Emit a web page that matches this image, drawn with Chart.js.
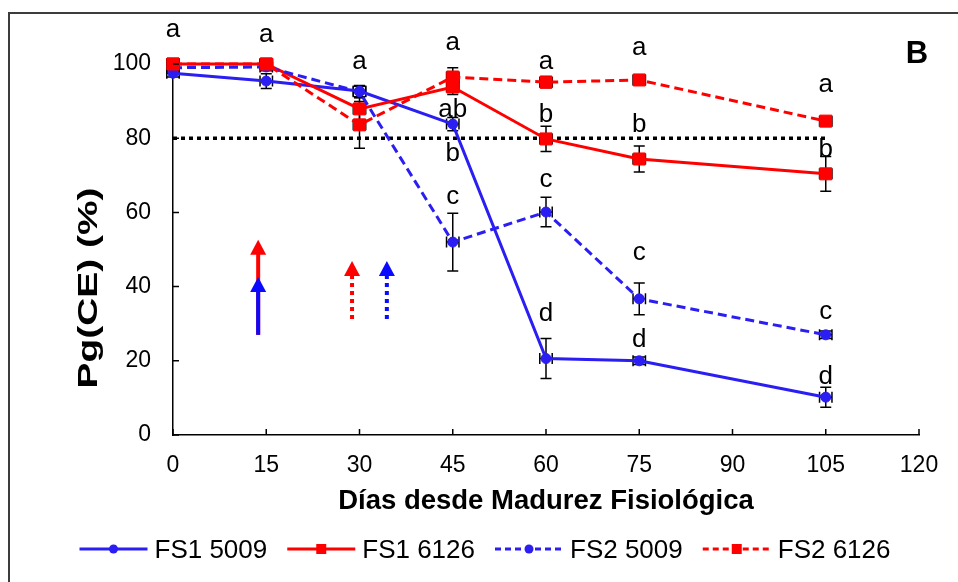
<!DOCTYPE html>
<html>
<head>
<meta charset="utf-8">
<script src="https://cdn.jsdelivr.net/npm/chart.js@4.4.1/dist/chart.umd.min.js"></script>
<style>
  html, body { margin: 0; padding: 0; background: #fff; }
  canvas { display: block; }
</style>
</head>
<body>
<canvas id="c" width="958" height="582"></canvas>
<script>
// Days after physiological maturity
const days = [0, 15, 30, 45, 60, 75, 105];

// Germination Pg(CE) (%) and its error for each lot
const fs1_5009    = [97.5, 95.4, 92.7, 83.8, 20.6, 20.0, 10.2];
const fs1_5009Err = [1.0, 2.0, 1.5, 1.8, 5.4, 1.0, 2.7];
const fs1_6126    = [100, 100, 87.9, 93.8, 79.8, 74.4, 70.4];
const fs1_6126Err = [0.5, 0.8, 3.0, 2.0, 3.4, 3.5, 4.7];
const fs2_5009    = [99.0, 99.2, 92.5, 52.0, 60.1, 36.7, 27.0];
const fs2_5009Err = [0.8, 1.0, 1.5, 7.8, 4.0, 4.3, 1.0];
const fs2_6126    = [100, 100, 83.6, 96.5, 95.1, 95.7, 84.6];
const fs2_6126Err = [0.5, 0.8, 6.3, 2.5, 1.5, 1.0, 1.0];
const dayErr = 1;

// 80 % reference level
const thresholdDays  = [0, 105];
const thresholdLevel = [80, 80];

// Axis ticks
const xTickStep = 15, xMax = 120;
const yTickStep = 20, yMax = 100;

// Significance letters
const letterDays   = [0, 15, 30, 45, 45, 45, 45, 60, 60, 60, 60, 75, 75, 75, 75, 105, 105, 105, 105];
const letterTexts  = ['a', 'a', 'a', 'a', 'ab', 'b', 'c', 'a', 'b', 'c', 'd', 'a', 'b', 'c', 'd', 'a', 'b', 'c', 'd'];
const letterLevels = [109.2, 107.8, 100.5, 105.7, 88.3, 76.3, 64.2, 100.5, 86.8, 68.7, 33.2, 104.3, 84.1, 49.1, 26.4, 94.3, 77.4, 33.2, 16.2];

// Event arrows (solid = FS1, dotted = FS2)
const arrowDays = [13.7, 13.7, 28.8, 34.4];
const arrowFrom = [27, 27, 31.3, 31.3];
const arrowTo   = [52.6, 42.6, 46.9, 46.9];

const BLUE = '#2a1ef2';
const RED = '#ff0000';
const FONT = "'Liberation Sans', Arial, sans-serif";

const seriesDefs = [
  { label: 'FS1 5009', values: fs1_5009, err: fs1_5009Err, color: BLUE, dash: [], style: 'circle', order: 3 },
  { label: 'FS1 6126', values: fs1_6126, err: fs1_6126Err, color: RED, dash: [], style: 'rect', order: 2 },
  { label: 'FS2 5009', values: fs2_5009, err: fs2_5009Err, color: BLUE, dash: [9, 5], style: 'circle', order: 1 },
  { label: 'FS2 6126', values: fs2_6126, err: fs2_6126Err, color: RED, dash: [9, 5], style: 'rect', order: 0 }
];

const datasets = seriesDefs.map(s => ({
  label: s.label,
  data: days.map((d, i) => ({ x: d, y: s.values[i] })),
  borderColor: s.color,
  backgroundColor: s.color,
  pointBackgroundColor: s.color,
  pointBorderColor: s.color,
  borderWidth: 3,
  borderDash: s.dash,
  pointStyle: s.style,
  pointRadius: s.style === 'rect' ? 8.5 : 5,
  pointBorderWidth: 1,
  tension: 0,
  clip: false,
  order: s.order
}));

datasets.push({
  label: 'umbral',
  data: thresholdDays.map((d, i) => ({ x: d, y: thresholdLevel[i] })),
  borderColor: '#000',
  borderWidth: 3.5,
  borderDash: [4, 4],
  borderCapStyle: 'butt',
  pointRadius: 0,
  clip: false,
  order: 5
});

function drawArrow(ctx, x, yBase, yTip, color, dotted) {
  const headH = 15, headW = 8;
  ctx.save();
  ctx.strokeStyle = color;
  ctx.fillStyle = color;
  ctx.lineWidth = 4;
  ctx.lineCap = 'butt';
  ctx.setLineDash(dotted ? [4, 4] : []);
  ctx.beginPath();
  ctx.moveTo(x, yBase);
  ctx.lineTo(x, yTip + headH - 1);
  ctx.stroke();
  ctx.setLineDash([]);
  ctx.beginPath();
  ctx.moveTo(x, yTip);
  ctx.lineTo(x - headW, yTip + headH);
  ctx.lineTo(x + headW, yTip + headH);
  ctx.closePath();
  ctx.fill();
  ctx.restore();
}

// Write text centred on its ink box
function inkText(ctx, text, cx, cy) {
  const m = ctx.measureText(text);
  const asc = m.actualBoundingBoxAscent, desc = m.actualBoundingBoxDescent;
  ctx.textAlign = 'center';
  ctx.textBaseline = 'alphabetic';
  ctx.fillText(text, cx, cy + (asc - desc) / 2);
}

function drawMarker(ctx, style, x, y, color, r) {
  ctx.fillStyle = color;
  ctx.beginPath();
  if (style === 'rect') {
    ctx.rect(x - r, y - r, 2 * r, 2 * r);
  } else {
    ctx.arc(x, y, r, 0, Math.PI * 2);
  }
  ctx.fill();
}

const decorations = {
  id: 'decorations',
  beforeDraw(chart) {
    const { ctx } = chart;
    ctx.save();
    ctx.fillStyle = '#fff';
    ctx.fillRect(0, 0, chart.width, chart.height);
    ctx.strokeStyle = '#3c3c3c';
    ctx.lineWidth = 2;
    ctx.beginPath();
    ctx.moveTo(9, chart.height + 5);
    ctx.lineTo(9, 13);
    ctx.lineTo(chart.width + 5, 13);
    ctx.stroke();
    ctx.restore();
  },
  beforeDatasetsDraw(chart) {
    const { ctx, scales: { x, y } } = chart;
    ctx.save();
    ctx.strokeStyle = '#000';
    ctx.lineWidth = 1.5;
    const cap = 5.5;
    seriesDefs.forEach(s => {
      days.forEach((d, i) => {
        const px = x.getPixelForValue(d);
        const py = y.getPixelForValue(s.values[i]);
        const top = y.getPixelForValue(s.values[i] + s.err[i]);
        const bot = y.getPixelForValue(s.values[i] - s.err[i]);
        const l = x.getPixelForValue(d - dayErr);
        const r = x.getPixelForValue(d + dayErr);
        ctx.beginPath();
        ctx.moveTo(px, top); ctx.lineTo(px, bot);
        ctx.moveTo(px - cap, top); ctx.lineTo(px + cap, top);
        ctx.moveTo(px - cap, bot); ctx.lineTo(px + cap, bot);
        ctx.moveTo(l, py); ctx.lineTo(r, py);
        ctx.moveTo(l, py - cap); ctx.lineTo(l, py + cap);
        ctx.moveTo(r, py - cap); ctx.lineTo(r, py + cap);
        ctx.stroke();
      });
    });
    ctx.restore();
  },
  afterDatasetsDraw(chart) {
    const { ctx, scales: { x, y } } = chart;
    ctx.save();

    // tick marks pointing into the plot
    ctx.strokeStyle = '#000';
    ctx.lineWidth = 1.5;
    ctx.beginPath();
    x.ticks.forEach(t => {
      const px = x.getPixelForValue(t.value);
      ctx.moveTo(px, y.bottom);
      ctx.lineTo(px, y.bottom - 6);
    });
    y.ticks.forEach(t => {
      const py = y.getPixelForValue(t.value);
      ctx.moveTo(x.left, py);
      ctx.lineTo(x.left + 6, py);
    });
    ctx.stroke();

    // arrows
    const arrowColors = [RED, '#0a0aff', RED, '#0a0aff'];
    const arrowDotted = [false, false, true, true];
    arrowDays.forEach((d, i) => {
      drawArrow(ctx, x.getPixelForValue(d), y.getPixelForValue(arrowFrom[i]),
        y.getPixelForValue(arrowTo[i]), arrowColors[i], arrowDotted[i]);
    });

    // significance letters
    ctx.fillStyle = '#000';
    ctx.font = `26px ${FONT}`;
    letterTexts.forEach((t, i) => {
      inkText(ctx, t, x.getPixelForValue(letterDays[i]), y.getPixelForValue(letterLevels[i]));
    });

    // panel letter
    ctx.font = `bold 31px ${FONT}`;
    inkText(ctx, 'B', 917, 52);

    // y axis title (wide lettering)
    ctx.save();
    ctx.translate(90, 288);
    ctx.rotate(-Math.PI / 2);
    ctx.scale(1.44, 1);
    ctx.font = `bold 27px ${FONT}`;
    inkText(ctx, 'Pg(CE) (%)', 0, 0);
    ctx.restore();

    // legend
    ctx.font = `26px ${FONT}`;
    const sampleW = 68, gapText = 7, gapItem = 20;
    const widths = seriesDefs.map(s => sampleW + gapText + ctx.measureText(s.label).width);
    const total = widths.reduce((a, b) => a + b, 0) + gapItem * (seriesDefs.length - 1);
    let lx = 485 - total / 2;
    const ly = 549;
    seriesDefs.forEach((s, i) => {
      ctx.save();
      ctx.strokeStyle = s.color;
      ctx.lineWidth = 3;
      ctx.setLineDash(s.dash.length ? [6, 4] : []);
      ctx.beginPath();
      ctx.moveTo(lx, ly);
      ctx.lineTo(lx + sampleW, ly);
      ctx.stroke();
      ctx.restore();
      drawMarker(ctx, s.style, lx + sampleW / 2, ly, s.color, s.style === 'rect' ? 5 : 4.5);
      ctx.fillStyle = '#000';
      const m = ctx.measureText(s.label);
      ctx.textAlign = 'left';
      ctx.textBaseline = 'alphabetic';
      ctx.fillText(s.label, lx + sampleW + gapText, ly + (m.actualBoundingBoxAscent - m.actualBoundingBoxDescent) / 2);
      lx += widths[i] + gapItem;
    });

    ctx.restore();
  }
};

new Chart(document.getElementById('c'), {
  type: 'line',
  data: { datasets },
  plugins: [decorations],
  options: {
    responsive: false,
    animation: false,
    devicePixelRatio: 1,
    layout: { padding: { left: 10, right: 39, top: 64, bottom: 62 } },
    plugins: { legend: { display: false }, tooltip: { enabled: false } },
    scales: {
      x: {
        type: 'linear',
        min: 0,
        max: xMax,
        ticks: { stepSize: xTickStep, color: '#000', font: { family: FONT, size: 23 }, padding: 17, maxRotation: 0, autoSkip: false },
        grid: { display: false, drawTicks: false },
        border: { display: true, color: '#000', width: 1.5 },
        title: { display: true, text: 'Días desde Madurez Fisiológica', color: '#000', font: { family: FONT, size: 27.5, weight: 'bold' }, padding: { top: 0, bottom: 2 } },
        afterFit(s) { s.height = 85; }
      },
      y: {
        min: 0,
        max: yMax,
        ticks: { stepSize: yTickStep, color: '#000', font: { family: FONT, size: 23 }, padding: 22 },
        grid: { display: false, drawTicks: false },
        border: { display: true, color: '#000', width: 1.5 },
        afterFit(s) { s.width = 163; }
      }
    }
  }
});
</script>
</body>
</html>
